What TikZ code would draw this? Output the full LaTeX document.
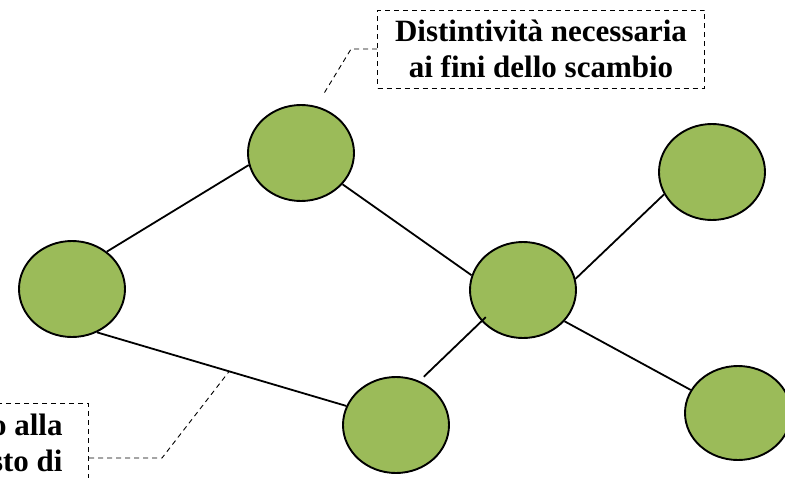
\documentclass[tikz,border=0pt]{standalone}
\usepackage{fontspec}
\setmainfont{Liberation Serif}
\usepackage{tikz}
\usetikzlibrary{shapes}
\usetikzlibrary{calc}
\definecolor{leaf}{RGB}{155,187,89}

\begin{document}
\begin{tikzpicture}[x=1pt,y=-1pt,
        agent/.style={ellipse, draw, line width=1.9pt, fill=leaf, minimum width=106pt, minimum height=96pt, inner sep=0pt},
        note/.style={draw, dash pattern=on 5pt off 4pt, line width=0.9pt, font=\fontsize{31}{36}\selectfont\bfseries, inner sep=0pt},
        lead/.style={dash pattern=on 5pt off 4pt, line width=0.9pt},
        link/.style={line width=1.8pt}]
        \useasboundingbox (0,0) rectangle (785,477);
        \clip (0,0) rectangle (785,477);
        \node[agent] (A) at (72,289) {};
        \node[agent] (B) at (301,153) {};
        \node[agent] (C) at (523,290) {};
        \node[agent] (D) at (396,425) {};
        \node[agent] (E) at (712,172) {};
        \node[agent, minimum height=94pt] (F) at (738,413) {};
        \draw[link] (A.47) -- (B.193);
        \draw[link] (B.-37) -- (C.164);
        \draw[link] (A.-60) -- (D.159);
        \draw[link] (C.12) -- (E.205);
        \draw[link, shorten <=6pt, shorten >=-6pt] (D.62) -- (C.217);
        \draw[link] (C.-37) -- (F.154);
        % callouts
        \node[note, align=center, minimum width=327pt, minimum height=78pt] (T) at (541,49) {Distintività necessaria\\ai fini dello scambio};
        \coordinate (tb) at (323,95);
        \draw[lead] (T.west) -- ++(-26,0) -- (tb);
        \node[note, align=right, anchor=north east, minimum height=78pt, inner xsep=26pt] (L) at (89,403) {o alla\\sto di};
        \coordinate (ad) at ($(A.-60)!0.53!(D.159)$);
        \draw[lead] (L.north east) ++(0,55) -- ++(73,0) -- (ad);
\end{tikzpicture}
\end{document}
